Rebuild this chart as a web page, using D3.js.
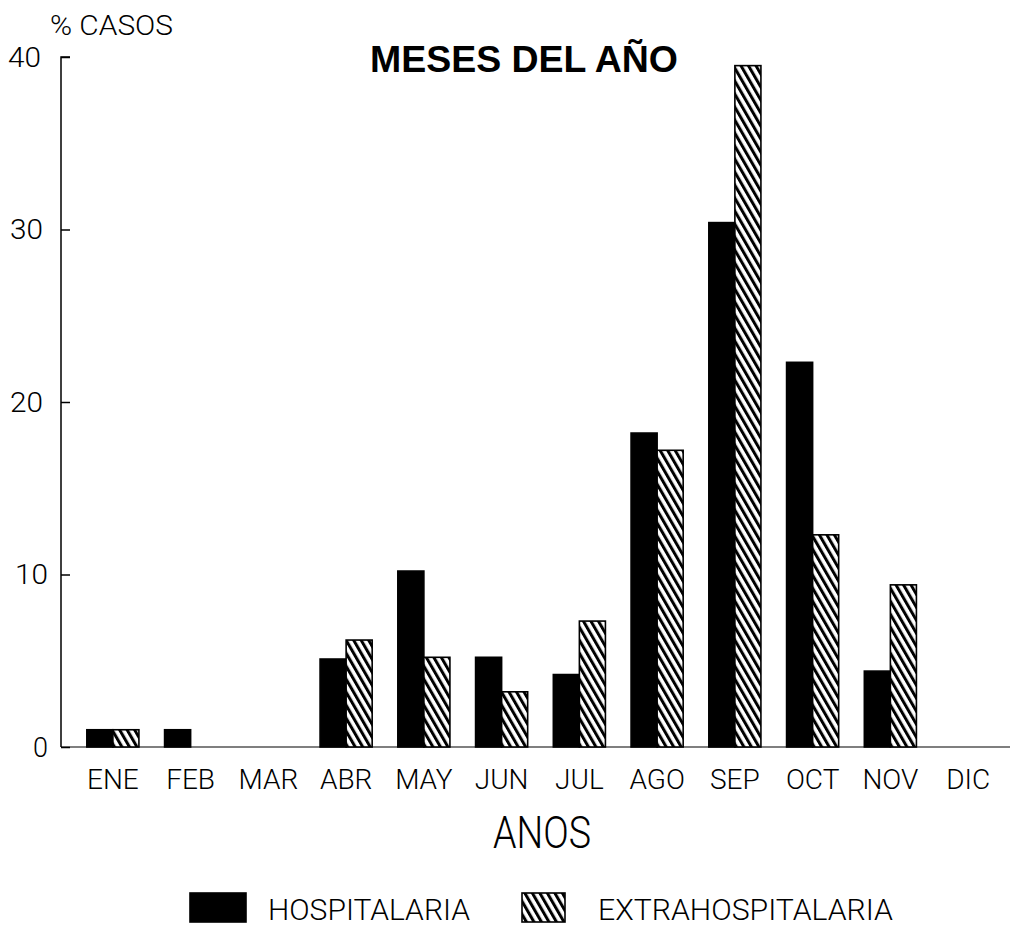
<!DOCTYPE html>
<html>
<head>
<meta charset="utf-8">
<script src="https://cdn.jsdelivr.net/npm/d3@7"></script>
<style>
  html, body { margin: 0; padding: 0; background: #fff; }
  svg { display: block; }
  .thin { font-family: Roboto, "Liberation Sans", sans-serif; font-weight: 300; fill: #000; }
</style>
</head>
<body>
<svg id="chart" width="1017" height="929"></svg>
<script>
const months = ["ENE","FEB","MAR","ABR","MAY","JUN","JUL","AGO","SEP","OCT","NOV","DIC"];
const hospitalaria = [1.0, 1.0, 0, 5.1, 10.2, 5.2, 4.2, 18.2, 30.4, 22.3, 4.4, 0];
const extrahospitalaria = [1.0, 0, 0, 6.2, 5.2, 3.2, 7.3, 17.2, 39.5, 12.3, 9.4, 0];
const series = ["HOSPITALARIA", "EXTRAHOSPITALARIA"];
const yTicks = [0, 10, 20, 30, 40];
const titleText = "MESES DEL AÑO";
const yAxisTitle = "% CASOS";
const xAxisTitle = "ANOS";

const svg = d3.select("#chart");

// hatch pattern
const defs = svg.append("defs");
const pat = defs.append("pattern")
  .attr("id", "hatch")
  .attr("patternUnits", "userSpaceOnUse")
  .attr("width", 6.5).attr("height", 7)
  .attr("patternTransform", "rotate(-30)");
pat.append("rect").attr("width", 6.5).attr("height", 7).attr("fill", "#fff");
pat.append("rect").attr("x", 0).attr("y", 0).attr("width", 3).attr("height", 7).attr("fill", "#000");

const x0 = d3.scaleBand().domain(months).range([74, 1007]).paddingInner(0.33).paddingOuter(0.165);
const x1 = d3.scaleBand().domain(series).range([0, x0.bandwidth()]);
const y = d3.scaleLinear().domain([0, 40]).range([747, 57]);

const axisX = 61;

// baseline
svg.append("line")
  .attr("x1", axisX).attr("x2", 1010)
  .attr("y1", y(0)).attr("y2", y(0))
  .attr("stroke", "#000").attr("stroke-width", 1.2);

// y axis
const yAxis = d3.axisRight(y).tickValues(yTicks).tickSize(9).tickFormat("");
const gy = svg.append("g").attr("transform", `translate(${axisX},0)`).call(yAxis);
gy.select(".domain").attr("d", `M9,${y(40)}H0V${y(0)}`).attr("stroke", "#000").attr("stroke-width", 1.5).attr("fill", "none");
gy.selectAll(".tick line").attr("stroke", "#000").attr("stroke-width", 1.5);

// y tick labels
svg.append("g").selectAll("text").data(yTicks).join("text")
  .attr("class", "thin")
  .attr("x", d => d <= 10 ? 48 : (d === 40 ? 41 : 43))
  .attr("y", d => y(d))
  .attr("dy", "0.36em")
  .attr("text-anchor", "end")
  .attr("font-size", 27)
  .attr("textLength", d => d === 0 ? 15 : 33)
  .attr("lengthAdjust", "spacingAndGlyphs")
  .text(d => d);

// bars
const data = months.map((m, i) => ({ m, vals: [hospitalaria[i], extrahospitalaria[i]] }));
const groups = svg.append("g").selectAll("g").data(data).join("g")
  .attr("transform", d => `translate(${x0(d.m)},0)`);
groups.selectAll("rect").data(d => d.vals.map((v, j) => ({ s: series[j], v })).filter(e => e.v > 0))
  .join("rect")
  .attr("x", e => x1(e.s))
  .attr("y", e => y(e.v))
  .attr("width", x1.bandwidth())
  .attr("height", e => y(0) - y(e.v))
  .attr("fill", e => e.s === series[0] ? "#000" : "url(#hatch)")
  .attr("stroke", "#000")
  .attr("stroke-width", 1.6);

// x labels
svg.append("g").selectAll("text").data(months).join("text")
  .attr("class", "thin")
  .attr("x", m => x0(m) + x0.bandwidth() / 2)
  .attr("y", 789)
  .attr("text-anchor", "middle")
  .attr("font-size", 28)
  .text(m => m);

// titles
svg.append("text")
  .attr("x", 524).attr("y", 72)
  .attr("text-anchor", "middle")
  .attr("font-family", "'Liberation Sans', Arial, sans-serif")
  .attr("font-weight", "bold")
  .attr("font-size", 37)
  .attr("textLength", 308)
  .attr("lengthAdjust", "spacingAndGlyphs")
  .text(titleText);

svg.append("text")
  .attr("class", "thin")
  .attr("x", 50).attr("y", 35)
  .attr("font-size", 28)
  .attr("textLength", 123)
  .attr("lengthAdjust", "spacingAndGlyphs")
  .text(yAxisTitle);

svg.append("text")
  .attr("class", "thin")
  .attr("x", 493).attr("y", 848)
  .attr("font-size", 44)
  .attr("textLength", 98)
  .attr("lengthAdjust", "spacingAndGlyphs")
  .text(xAxisTitle);

// legend
const legend = [
  { name: series[0], fill: "#000", rx: 190, rw: 56, tx: 268, tw: 202 },
  { name: series[1], fill: "url(#hatch)", rx: 522, rw: 43, tx: 598, tw: 295 }
];
const lg = svg.append("g").selectAll("g").data(legend).join("g");
lg.append("rect")
  .attr("x", d => d.rx).attr("y", 893)
  .attr("width", d => d.rw).attr("height", 29)
  .attr("fill", d => d.fill).attr("stroke", "#000").attr("stroke-width", 1.6);
lg.append("text")
  .attr("class", "thin")
  .attr("x", d => d.tx).attr("y", 920)
  .attr("font-size", 30)
  .attr("textLength", d => d.tw)
  .attr("lengthAdjust", "spacingAndGlyphs")
  .text(d => d.name);
</script>
</body>
</html>
